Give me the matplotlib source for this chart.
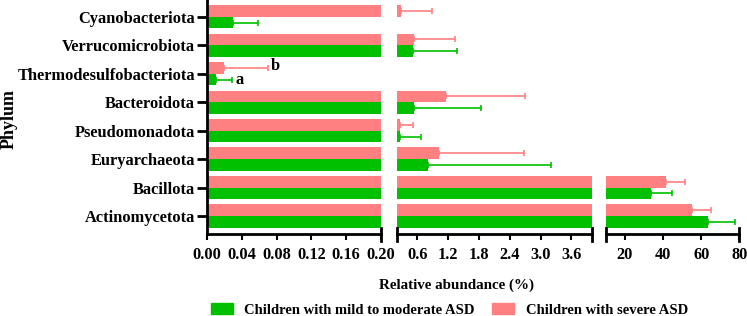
import numpy as np
import matplotlib
matplotlib.use("Agg")
import matplotlib.pyplot as plt
from matplotlib.patches import Patch

# data (bottom -> top)
phyla = ["Actinomycetota", "Bacillota", "Euryarchaeota", "Pseudomonadota",
         "Bacteroidota", "Thermodesulfobacteriota", "Verrucomicrobiota", "Cyanobacteriota"]
mild = [63.8, 33.4, 0.80, 0.26, 0.54, 0.010, 0.51, 0.030]
mild_err = [13.7, 11.3, 2.40, 0.41, 1.30, 0.019, 0.87, 0.029]
severe = [55.0, 41.3, 1.02, 0.26, 1.16, 0.020, 0.54, 0.284]
severe_err = [10.4, 10.2, 1.66, 0.26, 1.54, 0.050, 0.79, 0.61]

seg_limits = [(0, 0.20), (0.20, 4.0), (10, 80)]
seg_ticks = [np.arange(0, 0.201, 0.04), [0.6, 1.2, 1.8, 2.4, 3.0, 3.6], [20, 40, 60, 80]]
seg_fmt = ["{:.2f}", "{:.1f}", "{:.0f}"]

GREEN = "#00c000"
PINK = "#ff8080"

plt.rcParams["font.family"] = ["Liberation Serif", "DejaVu Serif"]
plt.rcParams["font.weight"] = "bold"
plt.rcParams["font.size"] = 10.5

W, H = 747, 316
fig = plt.figure(figsize=(W / 100, H / 100), dpi=100)

# panel pixel extents
ax_bottom, ax_top = 234, 0
x_px = [(207, 381), (396.7, 592), (606, 739.3)]

y = np.arange(len(phyla))
bh = 0.41
off = 0.205

axes = []
for i, ((l, r), lim, ticks, fmt) in enumerate(zip(x_px, seg_limits, seg_ticks, seg_fmt)):
    ax = fig.add_axes([l / W, (H - ax_bottom) / H, (r - l) / W, (ax_bottom - ax_top) / H])
    ax.barh(y + off, severe, height=bh, color=PINK)
    ax.barh(y - off, mild, height=bh, color=GREEN)
    ax.errorbar(severe, y + off, xerr=[np.zeros(len(y)), severe_err], fmt="none",
                ecolor=PINK, elinewidth=1.2, capsize=2.2, capthick=1.2)
    ax.errorbar(mild, y - off, xerr=[np.zeros(len(y)), mild_err], fmt="none",
                ecolor=GREEN, elinewidth=1.2, capsize=2.2, capthick=1.2)
    ax.set_xlim(*lim)
    ax.set_ylim(-0.63, 7.59)
    ax.set_xticks(ticks)
    ax.set_xticklabels([fmt.format(t) for t in ticks])
    ax.tick_params(axis="x", length=4.3, width=1.5, pad=5, labelsize=11.8)
    for s in ["top", "right"]:
        ax.spines[s].set_visible(False)
    ax.spines["bottom"].set_linewidth(2)
    if i == 0:
        ax.spines["left"].set_linewidth(2)
        ax.set_yticks(y)
        ax.set_yticklabels(phyla)
        ax.tick_params(axis="y", length=7, width=2, pad=1.5, labelsize=11.8)
    else:
        ax.spines["left"].set_visible(False)
        ax.set_yticks([])
        ax.axvline(lim[0], ymin=-0.03, ymax=0.026, color="black", lw=2, clip_on=False)
    ax.axvline(lim[1], ymin=-0.03, ymax=0.026, color="black", lw=2, clip_on=False)
    axes.append(ax)

# significance letters
ax0 = axes[0]
k = phyla.index("Thermodesulfobacteriota")
ax0.text(mild[k] + mild_err[k] + 0.004, y[k] - off, "a", va="center", ha="left", fontsize=11.8)
ax0.text(severe[k] + severe_err[k] + 0.003, y[k] + off + 0.05, "b", va="center", ha="left", fontsize=11.8)

fig.text(9.5 / W, 1 - 119 / H, "Phylum", rotation=90, ha="center", va="center", fontsize=13)
fig.text(456 / W, 1 - 285 / H, "Relative abundance (%)", ha="center", va="center", fontsize=10.8)

handles = [Patch(color=GREEN, label="Children with mild to moderate ASD"),
           Patch(color=PINK, label="Children with severe ASD")]
fig.legend(handles=handles, loc="center", bbox_to_anchor=(449.5 / W, 1 - 310 / H), ncol=2,
           frameon=False, handlelength=1.5, handleheight=0.7, handletextpad=0.8,
           columnspacing=1.2, fontsize=10.5, borderpad=0)

fig.savefig("out.png", dpi=100)
